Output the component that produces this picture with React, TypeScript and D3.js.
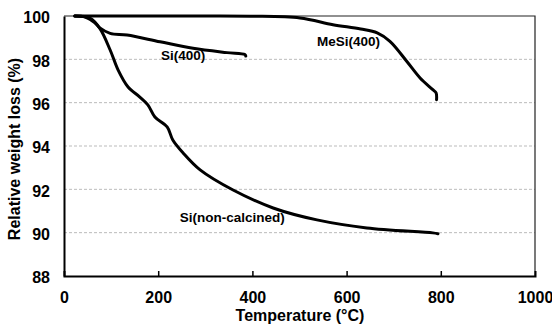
import { useEffect, useRef } from "react";
import * as d3 from "d3";

// temperature (°C) / relative weight (%)
const nonCalcT = [23, 55, 76, 98, 115, 136, 161, 178, 193, 219, 231, 253, 289, 359, 444, 537, 643, 783, 794];
const nonCalcW = [100, 99.9, 99.43, 98.43, 97.5, 96.72, 96.26, 95.9, 95.34, 94.88, 94.28, 93.68, 92.9, 91.97, 91.14, 90.59, 90.22, 89.99, 89.95];

const si400T = [23, 45, 65, 76, 98, 134, 204, 274, 346, 384, 386];
const si400W = [100, 99.95, 99.7, 99.45, 99.2, 99.12, 98.81, 98.51, 98.31, 98.22, 98.15];

const meSiT = [23, 150, 300, 395, 501, 571, 630, 665, 692, 728, 756, 783, 790, 791];
const meSiW = [100, 100, 100, 99.99, 99.91, 99.6, 99.4, 99.22, 98.83, 97.9, 97.14, 96.6, 96.45, 96.14];

const xTicks = [0, 200, 400, 600, 800, 1000];
const yTicks = [88, 90, 92, 94, 96, 98, 100];
const gridY = [90, 92, 94, 96, 98];

const labels = ["Si(400)", "MeSi(400)", "Si(non-calcined)"];
const labelT = [206, 537, 246];
const labelW = [97.97, 98.6, 90.5];

export default function App() {
  const ref = useRef<SVGSVGElement>(null);
  const width = 552;
  const height = 329;
  const left = 64, right = 535, top = 16, bottom = 276;

  const xScale = d3.scaleLinear().domain([0, 1000]).range([left, right]);
  const yScale = d3.scaleLinear().domain([88, 100]).range([bottom, top]);

  useEffect(() => {
    const svg = d3.select(ref.current);
    svg.selectAll("*").remove();
    const font = "'Liberation Sans', Arial, sans-serif";

    // grid
    svg.append("g").selectAll("line").data(gridY).join("line")
      .attr("x1", left).attr("x2", right)
      .attr("y1", d => yScale(d)).attr("y2", d => yScale(d))
      .attr("stroke", "#aaa").attr("stroke-width", 0.8).attr("stroke-dasharray", "3,2");

    // frame top/right
    svg.append("path")
      .attr("d", `M${left},${top}H${right}V${bottom}`)
      .attr("fill", "none").attr("stroke", "#222").attr("stroke-width", 1.2);

    // x axis
    const xAxis = svg.append("g").attr("transform", `translate(0,${bottom})`)
      .call(d3.axisBottom(xScale).tickValues(xTicks).tickSize(-5).tickPadding(16).tickFormat(d3.format("d")));
    xAxis.select(".domain").attr("stroke", "#000").attr("stroke-width", 2);
    xAxis.selectAll(".tick line").attr("stroke", "#000").attr("stroke-width", 1.5)
      .attr("display", (d: any) => (d === 0 || d === 1000 ? "none" : null));
    xAxis.selectAll("text").attr("font-family", font).attr("font-weight", "bold").attr("font-size", 16).attr("fill", "#000");

    // y axis
    const yAxis = svg.append("g").attr("transform", `translate(${left},0)`)
      .call(d3.axisLeft(yScale).tickValues(yTicks).tickSize(0).tickPadding(14));
    yAxis.select(".domain").attr("stroke", "#000").attr("stroke-width", 2);
    yAxis.selectAll("text").attr("font-family", font).attr("font-weight", "bold").attr("font-size", 16).attr("fill", "#000")
      .attr("dy", "0.42em");

    // titles
    svg.append("text").attr("x", 300).attr("y", 321)
      .attr("text-anchor", "middle").attr("font-family", font).attr("font-weight", "bold").attr("font-size", 16)
      .text("Temperature (°C)");
    svg.append("text").attr("transform", `translate(20,149) rotate(-90)`)
      .attr("text-anchor", "middle").attr("font-family", font).attr("font-weight", "bold").attr("font-size", 16)
      .text("Relative weight loss (%)");

    // curves
    const line = d3.line<[number, number]>()
      .x(d => xScale(d[0])).y(d => yScale(d[1]))
      .curve(d3.curveCatmullRom.alpha(0.5));
    const series = [
      d3.zip(meSiT, meSiW),
      d3.zip(si400T, si400W),
      d3.zip(nonCalcT, nonCalcW),
    ];
    svg.append("g").selectAll("path").data(series).join("path")
      .attr("d", d => line(d as [number, number][]))
      .attr("fill", "none").attr("stroke", "#000").attr("stroke-width", 3)
      .attr("stroke-linejoin", "round").attr("stroke-linecap", "round");

    // annotations
    svg.append("g").selectAll("text").data(labels).join("text")
      .attr("x", (d, i) => xScale(labelT[i])).attr("y", (d, i) => yScale(labelW[i]))
      .attr("font-family", font).attr("font-weight", "bold").attr("font-size", 13.5)
      .text(d => d);
  });

  return (
    <svg ref={ref} width={width} height={height}
      style={{ position: "absolute", left: 0, top: 0, background: "#fff" }} />
  );
}
